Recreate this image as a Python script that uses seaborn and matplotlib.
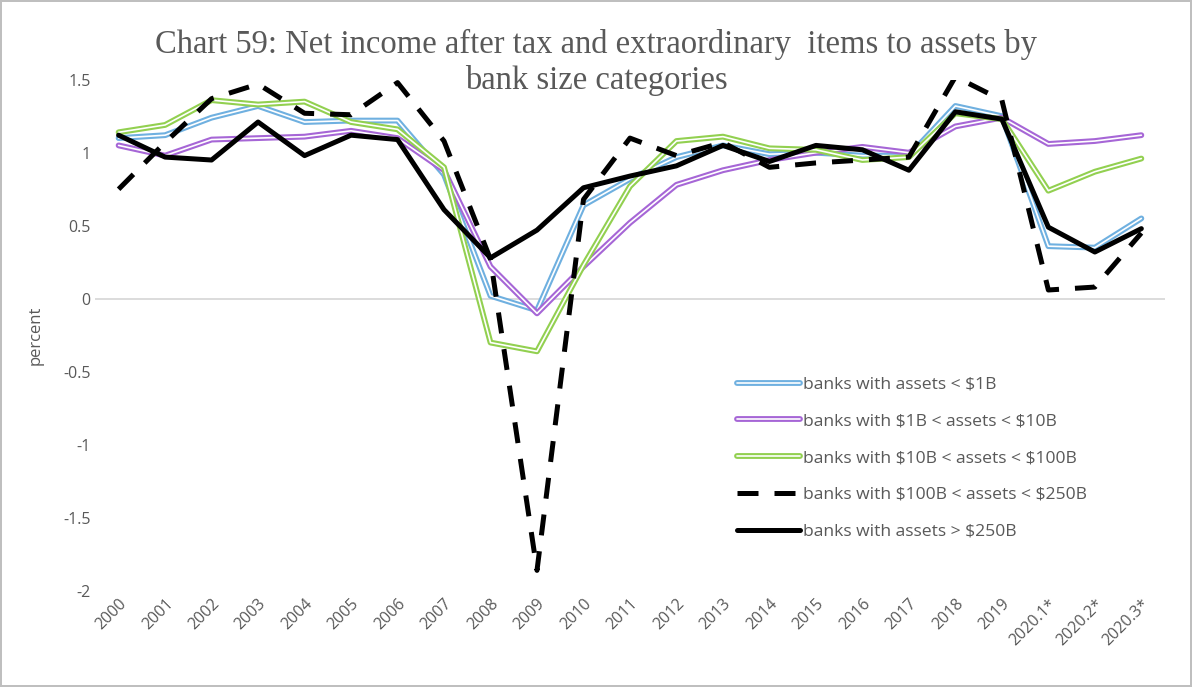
import pandas as pd
import matplotlib
matplotlib.use('Agg')
import matplotlib.pyplot as plt
import matplotlib.patheffects as pe
import seaborn as sns

# periodos
periods = ['2000', '2001', '2002', '2003', '2004', '2005', '2006', '2007', '2008',
           '2009', '2010', '2011', '2012', '2013', '2014', '2015', '2016', '2017',
           '2018', '2019', '2020.1*', '2020.2*', '2020.3*']

# valores (percent)
under_1b = [1.10, 1.12, 1.24, 1.32, 1.21, 1.22, 1.22, 0.85, 0.02, -0.08, 0.64, 0.82,
            0.97, 1.05, 0.99, 1.00, 0.98, 0.98, 1.32, 1.25, 0.36, 0.35, 0.55]
b1_10 = [1.05, 0.98, 1.09, 1.10, 1.11, 1.15, 1.10, 0.88, 0.22, -0.10, 0.22, 0.52,
         0.78, 0.88, 0.95, 1.00, 1.04, 1.00, 1.18, 1.24, 1.06, 1.08, 1.12]
b10_100 = [1.14, 1.19, 1.36, 1.33, 1.35, 1.21, 1.16, 0.90, -0.30, -0.36, 0.23, 0.77,
           1.08, 1.11, 1.03, 1.02, 0.95, 0.97, 1.27, 1.23, 0.74, 0.87, 0.96]
b100_250 = [0.75, 1.07, 1.37, 1.47, 1.27, 1.26, 1.48, 1.08, 0.27, -1.86, 0.68, 1.10,
            0.98, 1.07, 0.90, 0.93, 0.95, 0.97, 1.52, 1.36, 0.06, 0.08, 0.45]
over_250b = [1.12, 0.97, 0.95, 1.21, 0.98, 1.12, 1.09, 0.61, 0.28, 0.47, 0.76, 0.84,
             0.91, 1.05, 0.94, 1.05, 1.02, 0.88, 1.28, 1.23, 0.49, 0.32, 0.48]

labels = [r'banks with assets < \$1B', r'banks with \$1B < assets < \$10B',
          r'banks with \$10B < assets < \$100B', r'banks with \$100B < assets < \$250B',
          r'banks with assets > \$250B']

df = pd.DataFrame({'period': periods})
for lab, vals in zip(labels, [under_1b, b1_10, b10_100, b100_250, over_250b]):
    df[lab] = vals
df_plot = df.melt(id_vars='period', var_name='serie', value_name='value')

sns.set_style('white')
plt.rcParams['font.family'] = ['Open Sans', 'DejaVu Sans']

fig = plt.figure(figsize=(11.92, 6.87), dpi=100)
fig.patch.set_edgecolor('#bfbfbf')
fig.patch.set_linewidth(1.5)
ax = fig.add_axes([0.08, 0.14, 0.897, 0.744])

ax.axhline(0, color='#d9d9d9', lw=1.3, zorder=0)

# linhas duplas (contorno colorido com centro branco)
cores = {labels[0]: '#6fb0e0', labels[1]: '#a666d6', labels[2]: '#92d050'}
for lab, cor in cores.items():
    sns.lineplot(data=df_plot[df_plot.serie == lab], x='period', y='value', ax=ax,
                 color='white', lw=1.2, label=lab, sort=False,
                 path_effects=[pe.Stroke(linewidth=4.2, foreground=cor), pe.Normal()])

sns.lineplot(data=df_plot[df_plot.serie == labels[3]], x='period', y='value', ax=ax,
             color='black', lw=3.6, dashes=False, label=labels[3], sort=False,
             linestyle=(0, (4.2, 3.2)))
sns.lineplot(data=df_plot[df_plot.serie == labels[4]], x='period', y='value', ax=ax,
             color='black', lw=3.6, label=labels[4], sort=False)

ax.set_xlim(-0.5, len(periods) - 0.5)
ax.set_ylim(-2, 1.5)
ax.set_yticks([-2, -1.5, -1, -0.5, 0, 0.5, 1, 1.5])
ax.set_yticklabels(['-2', '-1.5', '-1', '-0.5', '0', '0.5', '1', '1.5'])
ax.tick_params(axis='both', colors='#595959', labelsize=11.5, length=0)
plt.xticks(rotation=45, ha='right', rotation_mode='anchor')
ax.set_xlabel('')
ax.set_ylabel('percent', color='#595959', fontsize=12, labelpad=14)
sns.despine(ax=ax, left=True, bottom=True, top=True, right=True)

leg = ax.legend(loc='upper left', bbox_to_anchor=(0.585, 0.45), frameon=False,
                fontsize=12.6, handlelength=3.6, handletextpad=0.2, labelspacing=1.17)
for t in leg.get_texts():
    t.set_color('#595959')

fig.text(0.5, 0.909, 'Chart 59: Net income after tax and extraordinary  items to assets by\nbank size categories',
         ha='center', va='center', fontsize=23.5, color='#595959',
         family=['Liberation Serif', 'DejaVu Serif'], linespacing=1.22)

plt.savefig('out.png', dpi=100, edgecolor=fig.get_edgecolor())
